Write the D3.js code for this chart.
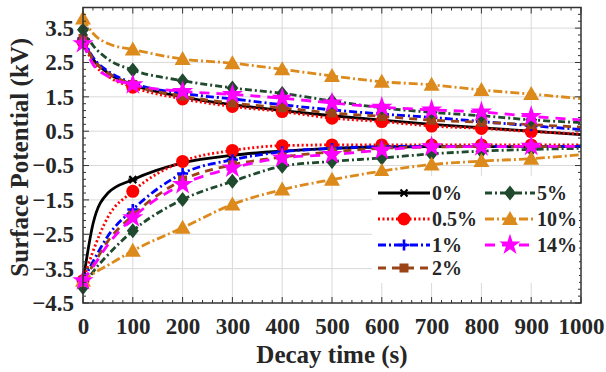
<!DOCTYPE html>
<html>
<head>
<meta charset="utf-8">
<script src="https://cdn.jsdelivr.net/npm/d3@7"></script>
<style>
  html, body { margin: 0; padding: 0; background: #fff; }
  svg { display: block; }
  text { font-family: "Liberation Serif", "Times New Roman", serif; font-weight: bold; fill: #262626; }
</style>
</head>
<body>
<svg id="chart" width="606" height="372"></svg>
<script>
// Sample times (s) and the times that carry a marker
const times = [0, 20, 50, 100, 200, 300, 400, 500, 600, 700, 800, 900, 1000];
const markerTimes = [0, 100, 200, 300, 400, 500, 600, 700, 800, 900];

// Filler contents
const labels = ["0%", "0.5%", "1%", "2%", "5%", "10%", "14%"];

// Positive-charge decay (kV)
const pos0  = [3.15, 2.60, 2.20, 1.85, 1.50, 1.27, 1.10, 0.95, 0.82, 0.70, 0.60, 0.50, 0.40];
const pos05 = [3.10, 2.50, 2.10, 1.78, 1.44, 1.22, 1.07, 0.88, 0.78, 0.65, 0.58, 0.49, 0.42];
const pos1  = [3.20, 2.65, 2.25, 1.90, 1.60, 1.44, 1.27, 1.12, 1.00, 0.90, 0.78, 0.66, 0.55];
const pos2  = [3.20, 2.60, 2.20, 1.86, 1.52, 1.32, 1.18, 1.03, 0.93, 0.82, 0.76, 0.69, 0.62];
const pos5  = [3.45, 3.00, 2.60, 2.28, 1.97, 1.76, 1.60, 1.38, 1.18, 1.05, 0.95, 0.83, 0.75];
const pos10 = [3.78, 3.35, 3.05, 2.88, 2.60, 2.48, 2.30, 2.11, 1.94, 1.85, 1.70, 1.58, 1.45];
const pos14 = [3.05, 2.45, 2.10, 1.85, 1.66, 1.57, 1.46, 1.32, 1.20, 1.12, 1.06, 0.93, 0.83];

// Negative-charge decay (kV)
const neg0  = [-3.90, -2.20, -1.30, -0.91, -0.42, -0.20, -0.08, 0.00, 0.04, 0.05, 0.05, 0.05, 0.05];
const neg05 = [-3.85, -3.00, -2.00, -1.25, -0.38, -0.06, 0.08, 0.10, 0.10, 0.10, 0.10, 0.10, 0.10];
const neg1  = [-3.85, -3.30, -2.55, -1.78, -0.73, -0.33, -0.10, 0.00, 0.05, 0.06, 0.06, 0.06, 0.06];
const neg2  = [-3.85, -3.40, -2.70, -1.95, -0.92, -0.48, -0.25, -0.10, 0.00, 0.04, 0.05, 0.05, 0.05];
const neg5  = [-4.05, -3.60, -3.10, -2.40, -1.49, -0.96, -0.52, -0.38, -0.28, -0.16, -0.08, -0.03, 0.00];
const neg10 = [-3.85, -3.65, -3.40, -2.98, -2.31, -1.63, -1.20, -0.91, -0.66, -0.47, -0.37, -0.30, -0.18];
const neg14 = [-3.85, -3.45, -2.80, -2.02, -1.05, -0.57, -0.28, -0.18, -0.05, 0.05, 0.05, 0.06, 0.06];

// Axis ticks
const xTicks = [0, 100, 200, 300, 400, 500, 600, 700, 800, 900, 1000];
const yTicks = [-4.5, -3.5, -2.5, -1.5, -0.5, 0.5, 1.5, 2.5, 3.5];

// Series styling
const colors = ["#000000", "#ff0000", "#0000ff", "#9a4418", "#1f4a2e", "#dc8a1c", "#ff00ff"];
const dashes = ["none", "2,2.5", "8,3,2,3", "8,6", "7,3,2,3", "9,3,2,3", "10,7"];
const symbols = ["times", "circle", "plus", "square", "diamond", "triangle", "star"];
const posSets = [pos0, pos05, pos1, pos2, pos5, pos10, pos14];
const negSets = [neg0, neg05, neg1, neg2, neg5, neg10, neg14];

const series = labels.map((name, i) => ({
  name, color: colors[i], dash: dashes[i], symbol: symbols[i],
  pos: times.map((t, j) => ({ t, v: posSets[i][j] })),
  neg: times.map((t, j) => ({ t, v: negSets[i][j] }))
}));

const W = 606, H = 372;
const m = { left: 83, right: 25, top: 7.5, bottom: 69 };
const svg = d3.select("#chart");

const x = d3.scaleLinear().domain([0, 1000]).range([m.left, W - m.right]);
const y = d3.scaleLinear().domain([-4.5, 4.1]).range([H - m.bottom, m.top]);

// Grid
const grid = svg.append("g").attr("stroke", "#d9d9d9").attr("stroke-width", 1);
grid.selectAll(".gx").data(xTicks.slice(1, -1)).join("line")
  .attr("x1", d => x(d)).attr("x2", d => x(d))
  .attr("y1", y.range()[1]).attr("y2", y.range()[0]);
grid.selectAll(".gy").data(yTicks.slice(1)).join("line")
  .attr("x1", x.range()[0]).attr("x2", x.range()[1])
  .attr("y1", d => y(d)).attr("y2", d => y(d));

// Marker shapes
function drawMarker(g, type, color, px, py) {
  switch (type) {
    case "times":
      g.append("path").attr("d", `M${px-3.5},${py-3.5}L${px+3.5},${py+3.5}M${px-3.5},${py+3.5}L${px+3.5},${py-3.5}M${px-4.5},${py}L${px+4.5},${py}`)
        .attr("stroke", color).attr("stroke-width", 2.2).attr("fill", "none");
      break;
    case "circle":
      g.append("circle").attr("cx", px).attr("cy", py).attr("r", 6.5).attr("fill", color);
      break;
    case "plus":
      g.append("path").attr("d", `M${px-5.5},${py}L${px+5.5},${py}M${px},${py-5.5}L${px},${py+5.5}`)
        .attr("stroke", color).attr("stroke-width", 2.6).attr("fill", "none");
      break;
    case "square":
      g.append("rect").attr("x", px - 4.5).attr("y", py - 4.5)
        .attr("width", 9).attr("height", 9).attr("fill", color);
      break;
    case "diamond":
      g.append("path").attr("d", `M${px},${py-7.5}L${px+6},${py}L${px},${py+7.5}L${px-6},${py}Z`).attr("fill", color);
      break;
    case "triangle":
      g.append("path").attr("d", `M${px},${py-8}L${px+8},${py+6}L${px-8},${py+6}Z`).attr("fill", color);
      break;
    case "star":
      g.append("path").attr("d", d3.symbol(d3.symbolStar, 140)())
        .attr("transform", `translate(${px},${py})`).attr("fill", color);
      break;
  }
}

const line = d3.line().x(d => x(d.t)).y(d => y(d.v)).curve(d3.curveMonotoneX);
const plot = svg.append("g");
series.forEach(s => {
  const g = plot.append("g");
  [s.pos, s.neg].forEach(data => {
    g.append("path").datum(data).attr("d", line)
      .attr("fill", "none").attr("stroke", s.color).attr("stroke-width", 2.8)
      .attr("stroke-dasharray", s.dash).attr("stroke-linejoin", "round");
    data.filter(d => markerTimes.includes(d.t))
      .forEach(d => drawMarker(g, s.symbol, s.color, x(d.t), y(d.v)));
  });
});

// Frame and inward ticks on all four sides
const frame = svg.append("g").attr("stroke", "#333").attr("fill", "none");
frame.append("rect").attr("x", x.range()[0]).attr("y", y.range()[1])
  .attr("width", x.range()[1] - x.range()[0]).attr("height", y.range()[0] - y.range()[1])
  .attr("stroke-width", 1.5);
const xMinor = d3.range(0, 1001, 20);
const yMinor = d3.range(-4.5, 4.1, 0.2);
xMinor.forEach(t => {
  const len = xTicks.includes(t) ? 6 : 3;
  frame.append("line").attr("x1", x(t)).attr("x2", x(t)).attr("y1", y.range()[0]).attr("y2", y.range()[0] - len).attr("stroke-width", 1);
  frame.append("line").attr("x1", x(t)).attr("x2", x(t)).attr("y1", y.range()[1]).attr("y2", y.range()[1] + len).attr("stroke-width", 1);
});
yMinor.forEach(v => {
  const major = yTicks.some(k => Math.abs(k - v) < 1e-6);
  const len = major ? 6 : 3;
  frame.append("line").attr("x1", x.range()[0]).attr("x2", x.range()[0] + len).attr("y1", y(v)).attr("y2", y(v)).attr("stroke-width", 1);
  frame.append("line").attr("x1", x.range()[1]).attr("x2", x.range()[1] - len).attr("y1", y(v)).attr("y2", y(v)).attr("stroke-width", 1);
});

// Tick labels via the library's axis generators
const xAxis = svg.append("g").attr("transform", `translate(0,${y.range()[0]})`)
  .call(d3.axisBottom(x).tickValues(xTicks).tickSize(0).tickPadding(15).tickFormat(d3.format("d")));
const yAxis = svg.append("g").attr("transform", `translate(${x.range()[0]},0)`)
  .call(d3.axisLeft(y).tickValues(yTicks).tickSize(0).tickPadding(9).tickFormat(d3.format(".1f")));
[xAxis, yAxis].forEach(a => {
  a.select(".domain").remove();
  a.selectAll("text").attr("font-size", 23).attr("fill", "#262626")
    .attr("font-family", "'Liberation Serif', 'Times New Roman', serif").attr("font-weight", "bold");
});

// Axis titles
svg.append("text").attr("x", (x.range()[0] + x.range()[1]) / 2).attr("y", 363)
  .attr("text-anchor", "middle").attr("font-size", 25).text("Decay time (s)");
svg.append("text").attr("transform", `translate(28,${(y.range()[0] + y.range()[1]) / 2 + 2}) rotate(-90)`)
  .attr("text-anchor", "middle").attr("font-size", 25).text("Surface Potential (kV)");

// Legend
const leg = svg.append("g");
leg.append("rect").attr("x", 372).attr("y", 176).attr("width", 207).attr("height", 107).attr("fill", "#fff");
const rowsY = [193, 219, 245, 268];
series.forEach((s, i) => {
  const col = i < 4 ? 0 : 1;
  const row = i < 4 ? i : i - 4;
  const x0 = col === 0 ? 378 : 485;
  const x1 = col === 0 ? 430 : 535;
  const yy = rowsY[row];
  const g = leg.append("g");
  g.append("line").attr("x1", x0).attr("x2", x1).attr("y1", yy).attr("y2", yy)
    .attr("stroke", s.color).attr("stroke-width", 2.8).attr("stroke-dasharray", s.dash);
  drawMarker(g, s.symbol, s.color, (x0 + x1) / 2, yy);
  g.append("text").attr("x", x1 + 2).attr("y", yy + 7).attr("font-size", 20).text(s.name);
});
</script>
</body>
</html>
